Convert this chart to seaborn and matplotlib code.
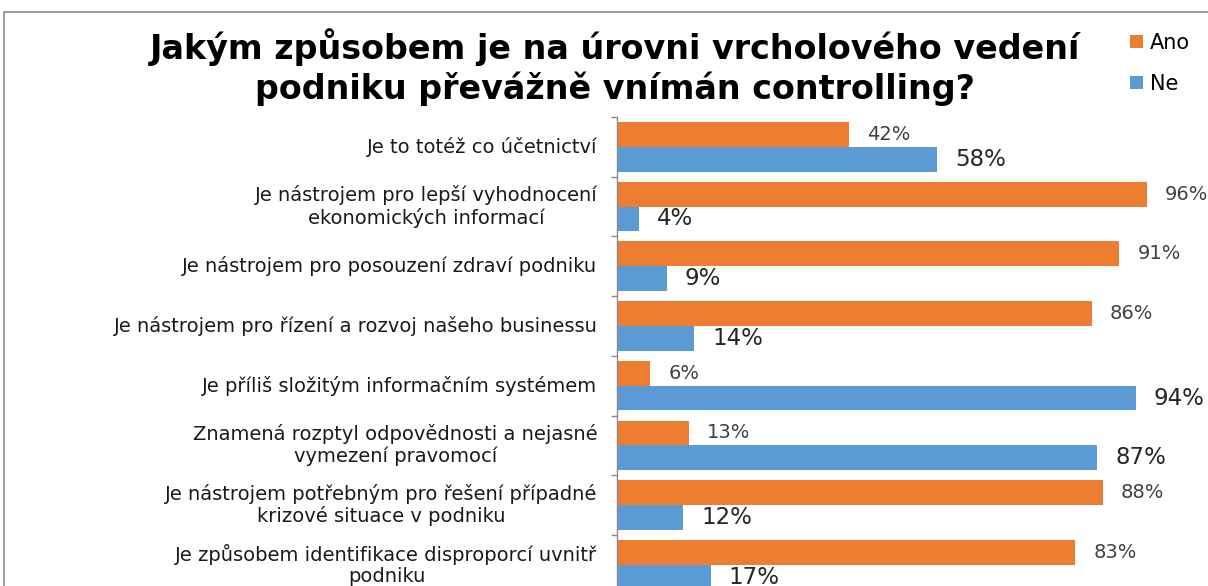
import matplotlib
matplotlib.use("Agg")
import matplotlib.pyplot as plt
from matplotlib.patches import Rectangle
import pandas as pd
import seaborn as sns

# data
kategorie = [
    "Je to totéž co účetnictví",
    "Je nástrojem pro lepší vyhodnocení\nekonomických informací",
    "Je nástrojem pro posouzení zdraví podniku",
    "Je nástrojem pro řízení a rozvoj našeho businessu",
    "Je příliš složitým informačním systémem",
    "Znamená rozptyl odpovědnosti a nejasné\nvymezení pravomocí",
    "Je nástrojem potřebným pro řešení případné\nkrizové situace v podniku",
    "Je způsobem identifikace disproporcí uvnitř\npodniku",
]
ano = [42, 96, 91, 86, 6, 13, 88, 83]
ne = [58, 4, 9, 14, 94, 87, 12, 17]
odpovedi = ["Ano", "Ne"]
barvy = ["#ED7D31", "#5B9BD5"]

df = pd.DataFrame({
    "kategorie": kategorie * 2,
    "odpoved": ["Ano"] * len(ano) + ["Ne"] * len(ne),
    "hodnota": ano + ne,
})

sns.set_theme(style="white")
plt.rcParams["font.family"] = ["DejaVu Sans"]

fig = plt.figure(figsize=(12.08, 5.86), dpi=100)
ax = fig.add_axes([617 / 1208, -0.0147, 552 / 1208, 0.815])

sns.barplot(data=df, x="hodnota", y="kategorie", hue="odpoved",
            hue_order=odpovedi, palette=barvy, orient="h",
            width=0.83, saturation=1, linewidth=0, ax=ax)

ax.set_xlim(0, 100)
ax.set_xlabel("")
ax.set_ylabel("")
ax.set_xticks([])
for s in ["top", "right", "bottom"]:
    ax.spines[s].set_visible(False)
ax.spines["left"].set_color("#8a8a8a")
ax.spines["left"].set_linewidth(1.0)

# ticks at category boundaries
ax.set_yticks([i - 0.5 for i in range(len(kategorie) + 1)], minor=True)
ax.tick_params(axis="y", which="minor", length=4, width=1, color="#8a8a8a", left=True)
ax.tick_params(axis="y", which="major", length=0, pad=14, labelsize=14, labelcolor="#1a1a1a")
for t in ax.get_yticklabels():
    t.set_multialignment("center")
    t.set_verticalalignment("center")
    t.set_linespacing(1.15)

ax.bar_label(ax.containers[0], fmt="%d%%", padding=13, fontsize=14, color="#404040")
ax.bar_label(ax.containers[1], fmt="%d%%", padding=13, fontsize=16.5, color="#262626")

sns.move_legend(ax, "upper left", bbox_to_anchor=(1130 / 1208, 1 - 33 / 586),
                bbox_transform=fig.transFigure, frameon=False, title=None,
                fontsize=15, handlelength=0.6, handleheight=0.6,
                handletextpad=0.35, labelspacing=1.0, borderpad=0, borderaxespad=0)
for t in ax.get_legend().get_texts():
    t.set_color("black")

fig.text(615 / 1208, 1 - 67 / 586,
         "Jakým způsobem je na úrovni vrcholového vedení\npodniku převážně vnímán controlling?",
         ha="center", va="center", fontsize=24, fontweight="bold",
         linespacing=1.2, color="black")

# chart frame (continues past the cropped edges)
fig.add_artist(Rectangle((4 / 1208, -0.5), 2, 0.5 + 1 - 12 / 586,
                         transform=fig.transFigure, fill=False,
                         edgecolor="#8c8c8c", linewidth=1.2, clip_on=False))

fig.savefig("out.png", dpi=100)
